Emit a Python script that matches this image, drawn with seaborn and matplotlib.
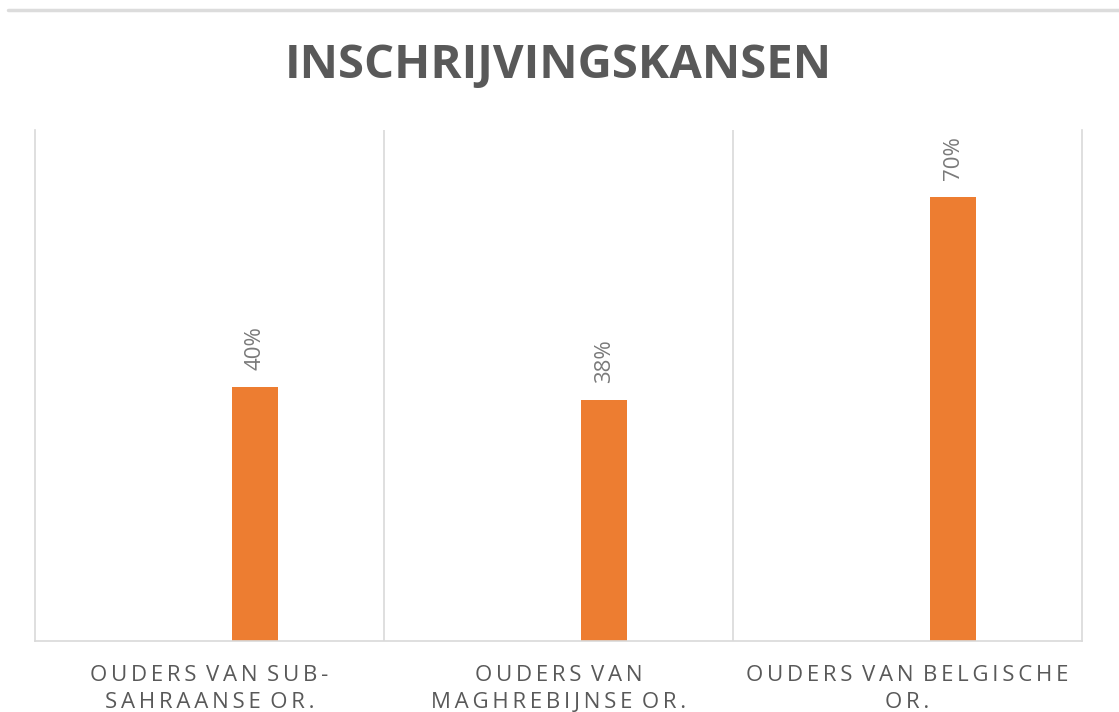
import matplotlib
matplotlib.use("Agg")
import matplotlib.pyplot as plt
from matplotlib import font_manager
from matplotlib.lines import Line2D
import seaborn as sns
import pandas as pd

categories = ["OUDERS VAN SUB-\nSAHRAANSE OR.", "OUDERS VAN\nMAGHREBIJNSE OR.", "OUDERS VAN BELGISCHE\nOR."]
values = [0.40, 0.38, 0.70]
value_labels = ["40%", "38%", "70%"]
title = "INSCHRIJVINGSKANSEN"

sns.set_theme(style="white")

names = {f.name for f in font_manager.fontManager.ttflist}
narrow = "Liberation Sans Narrow" if "Liberation Sans Narrow" in names else "Open Sans"
fam = [narrow, "DejaVu Sans"]
plt.rcParams["font.family"] = fam

def spaced(s, sep):
    lines = []
    for line in s.split("\n"):
        words = [sep.join(list(w)) for w in line.split(" ")]
        lines.append((sep + " ").join(words))
    return "\n".join(lines)

df = pd.DataFrame({"cat": categories, "val": values})

fig = plt.figure(figsize=(11.19, 7.12), dpi=100)
ax = fig.add_axes([35/1119, 1-641/712, (1082-35)/1119, (641-130)/712])

sns.barplot(data=df, x="cat", y="val", color="#ED7D31", width=0.133, ax=ax, saturation=1)

offset = 0.131
for p in ax.patches:
    p.set_x(p.get_x() + offset)
    p.set_edgecolor("none")

for p, lab in zip(ax.patches, value_labels):
    ax.annotate(lab, (p.get_x() + p.get_width()/2, p.get_height()),
                xytext=(0, 12), textcoords="offset points", rotation=90,
                ha="center", va="bottom", fontsize=16, color="#7A7A7A", family=fam)

ax.set_xlim(-0.5, 2.5)
ax.set_ylim(0, 0.805)
ax.set_yticks([])
ax.set_xlabel("")
ax.set_ylabel("")
ax.set_xticks(range(len(categories)))
ax.set_xticklabels([spaced(c, "\u2009") for c in categories], fontsize=16, color="#595959",
                   linespacing=1.35)
ax.tick_params(axis="x", length=0, pad=17.5)
for x in [0.5, 1.5]:
    ax.axvline(x, color="#D9D9D9", lw=1.2, zorder=0)
for s in ["left", "right", "bottom"]:
    ax.spines[s].set_visible(True)
    ax.spines[s].set_color("#D9D9D9")
    ax.spines[s].set_linewidth(1.2)
ax.spines["top"].set_visible(False)

fig.text(558/1119, 1-65/712, title, ha="center", va="center",
         fontsize=34, fontweight="bold", color="#595959", family=fam)

fig.add_artist(Line2D([8/1119, 1], [1-10/712, 1-10/712], transform=fig.transFigure,
                      color="#DCDCDC", lw=2.5))

fig.savefig("out.png", dpi=100)
